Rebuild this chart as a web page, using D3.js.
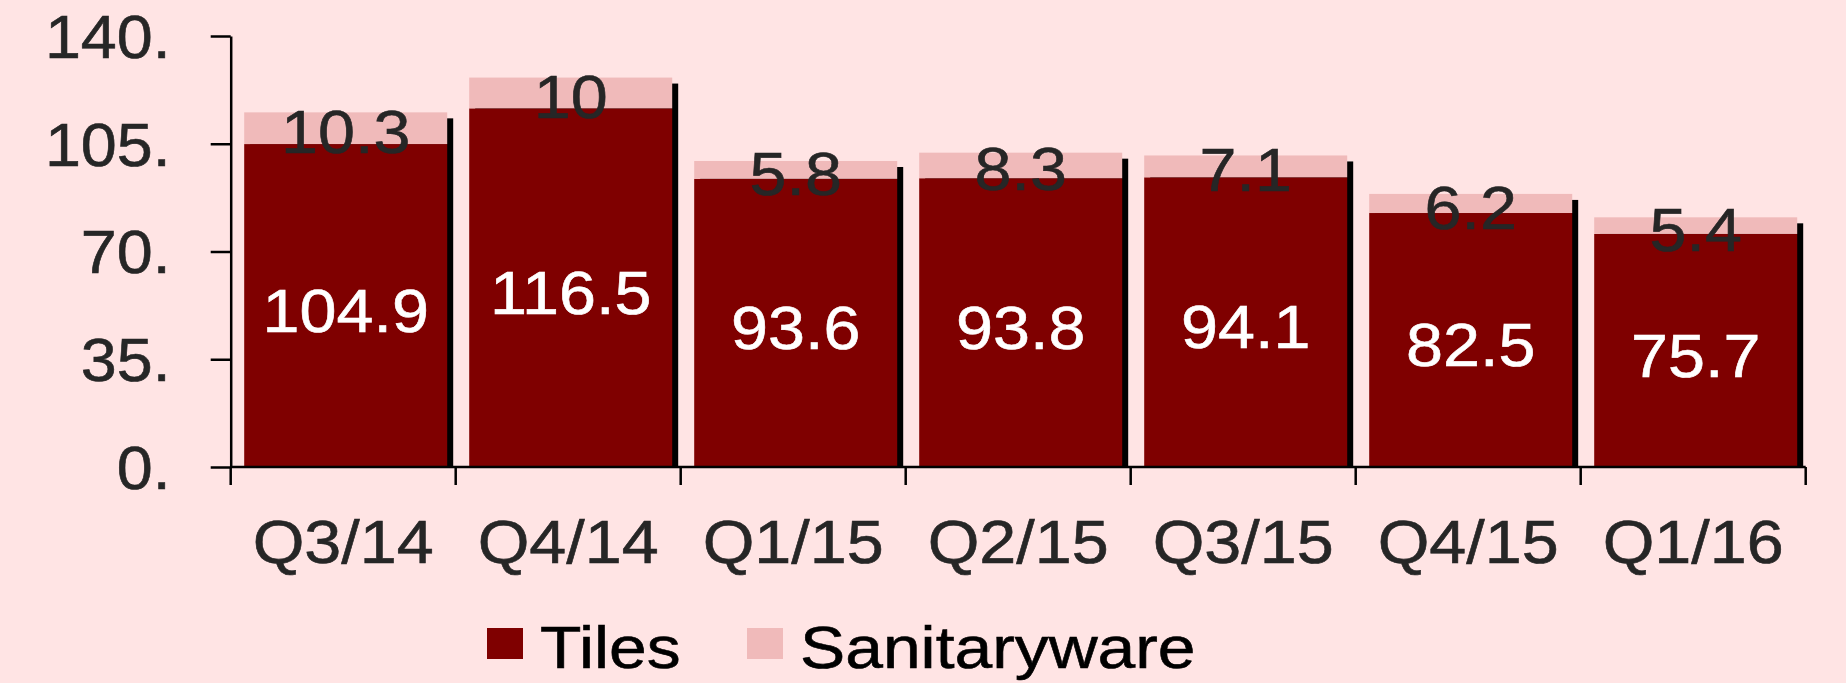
<!DOCTYPE html>
<html>
<head>
<meta charset="utf-8">
<script src="https://cdn.jsdelivr.net/npm/d3@7"></script>
<style>
  html, body { margin: 0; padding: 0; background: #ffe4e4; }
  svg text { font-family: "Liberation Sans", Arial, sans-serif; }
</style>
</head>
<body>
<div class="root"></div>
<script>
var quarters = ["Q3/14", "Q4/14", "Q1/15", "Q2/15", "Q3/15", "Q4/15", "Q1/16"];
var tiles = [104.9, 116.5, 93.6, 93.8, 94.1, 82.5, 75.7];
var sanitaryware = [10.3, 10, 5.8, 8.3, 7.1, 6.2, 5.4];
var yTicks = [0, 35, 70, 105, 140];
var seriesNames = ["Tiles", "Sanitaryware"];

var tilesColor = "#7f0000",
    sanColor   = "#f0baba",
    textColor  = "#262626";

var width = 1846, height = 683;

var svg = d3.select(".root")
            .append("svg")
            .attr("width", width)
            .attr("height", height);

svg.append("rect").attr("width", width).attr("height", height).attr("fill", "#ffe4e4");

var x = d3.scaleBand().domain(quarters).range([230.7, 1805.7]).padding(0);
var y = d3.scaleLinear().domain([0, 140]).range([467, 36]);

var barOff = 13.5, barW = 203;

var rows = quarters.map(function (q, i) {
  return { q: q, tiles: tiles[i], san: sanitaryware[i] };
});

// the text in the picture is a little wider than plain Arial
function stretched(sel, fx, fy, sx) {
  sel.attr("transform", function (d, i) {
    return "translate(" + fx(d, i) + "," + fy(d, i) + ") scale(" + sx + ",1)";
  });
}

// drop shadow
svg.append("g").selectAll("rect")
   .data(rows).enter().append("rect")
   .attr("x", function (d) { return x(d.q) + barOff + 6; })
   .attr("y", function (d) { return y(d.tiles + d.san) + 6; })
   .attr("width", barW)
   .attr("height", function (d) { return y(0) - y(d.tiles + d.san) - 6; })
   .attr("fill", "#000");

svg.append("g").selectAll("rect")
   .data(rows).enter().append("rect")
   .attr("x", function (d) { return x(d.q) + barOff; })
   .attr("y", function (d) { return y(d.tiles); })
   .attr("width", barW)
   .attr("height", function (d) { return y(0) - y(d.tiles); })
   .attr("fill", tilesColor);

svg.append("g").selectAll("rect")
   .data(rows).enter().append("rect")
   .attr("x", function (d) { return x(d.q) + barOff; })
   .attr("y", function (d) { return y(d.tiles + d.san); })
   .attr("width", barW)
   .attr("height", function (d) { return y(d.tiles) - y(d.tiles + d.san); })
   .attr("fill", sanColor);

// value labels
var tilesLabels = svg.append("g").selectAll("text")
   .data(rows).enter().append("text")
   .attr("dominant-baseline", "central")
   .attr("text-anchor", "middle")
   .attr("font-size", 61)
   .attr("fill", "#fff")
   .attr("stroke", "#fff").attr("stroke-width", 0.6)
   .text(function (d) { return d.tiles; });
stretched(tilesLabels,
          function (d) { return x(d.q) + barOff + barW / 2; },
          function (d) { return (y(d.tiles) + y(0)) / 2 + 5; }, 1.09);

var sanLabels = svg.append("g").selectAll("text")
   .data(rows).enter().append("text")
   .attr("dominant-baseline", "central")
   .attr("text-anchor", "middle")
   .attr("font-size", 61)
   .attr("fill", textColor)
   .attr("stroke", textColor).attr("stroke-width", 0.6)
   .text(function (d) { return d.san; });
stretched(sanLabels,
          function (d) { return x(d.q) + barOff + barW / 2; },
          function (d) { return (y(d.tiles) + y(d.tiles + d.san)) / 2 + 4; }, 1.09);

// y axis
var yAxis = d3.axisLeft(y)
              .tickValues(yTicks)
              .tickSize(20)
              .tickSizeOuter(0)
              .tickPadding(42)
              .tickFormat(function (d) { return d + "."; });

var yg = svg.append("g")
            .attr("transform", "translate(230.7,0)")
            .call(yAxis);
yg.selectAll("path, line").attr("stroke", "#000").attr("stroke-width", 2.5);
yg.selectAll("text")
  .attr("font-size", 61)
  .attr("fill", textColor)
  .attr("stroke", textColor).attr("stroke-width", 0.6)
  .attr("dy", "0.35em")
  .attr("x", 0)
  .attr("transform", "translate(-60,0) scale(1.06,1)");

// x axis
var xg = svg.append("g");
xg.append("line")
  .attr("x1", 230.7).attr("x2", 1805.7)
  .attr("y1", y(0)).attr("y2", y(0))
  .attr("stroke", "#000").attr("stroke-width", 2.5);

var bounds = quarters.map(function (q) { return x(q); }).concat([x.range()[1]]);
xg.selectAll(".tick").data(bounds).enter().append("line")
  .attr("x1", function (d) { return d; }).attr("x2", function (d) { return d; })
  .attr("y1", y(0)).attr("y2", y(0) + 18)
  .attr("stroke", "#000").attr("stroke-width", 2.5);

var xLabels = xg.selectAll("text").data(quarters).enter().append("text")
  .attr("text-anchor", "middle")
  .attr("font-size", 61)
  .attr("fill", textColor)
  .attr("stroke", textColor).attr("stroke-width", 0.6)
  .text(function (d) { return d; });
stretched(xLabels,
          function (d) { return x(d) + x.bandwidth() / 2; },
          function () { return 563; }, 1.09);

// legend
var legendX = [487, 747];
var legendColors = [tilesColor, sanColor];
var legend = svg.append("g");
seriesNames.forEach(function (name, i) {
  legend.append("rect")
        .attr("x", legendX[i]).attr("y", 628)
        .attr("width", 36).attr("height", 31)
        .attr("fill", legendColors[i]);
  legend.append("text")
        .attr("transform", "translate(" + (legendX[i] + 53) + ",668) scale(1.13,1)")
        .attr("font-size", 60)
        .attr("fill", "#000")
        .attr("stroke", "#000").attr("stroke-width", 0.6)
        .text(name);
});
</script>
</body>
</html>
